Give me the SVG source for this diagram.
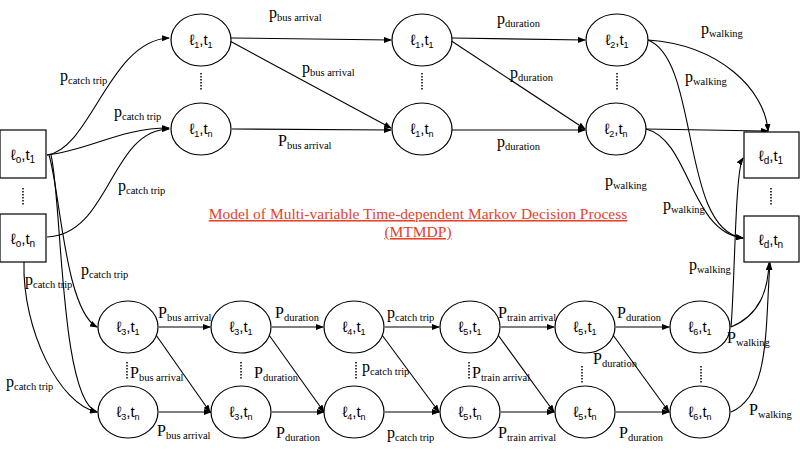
<svg xmlns="http://www.w3.org/2000/svg" width="800" height="454" viewBox="0 0 800 454">
<defs>
<marker id="a" markerWidth="8" markerHeight="6" refX="7" refY="3" orient="auto" markerUnits="userSpaceOnUse"><path d="M0,0 L8,3 L0,6 z" fill="#000"/></marker>
<style>
.n ellipse,.n rect{fill:#fff;stroke:#000;stroke-width:1.2}
.n text{font-family:"Liberation Sans",Arial,sans-serif;font-size:15px;text-anchor:middle}
.e path{fill:none;stroke:#000;stroke-width:1.1;marker-end:url(#a)}
.l{font-family:"Liberation Serif","Times New Roman",serif;font-size:16px}
.l tspan.s{font-size:10.5px}
.d{stroke:#000;stroke-width:1.5;stroke-dasharray:1.5 1.5}
.t{font-family:"Liberation Serif","Times New Roman",serif;font-size:15.5px;fill:#e8412a;text-decoration:underline;text-anchor:middle}
</style>
</defs>
<g class="e" id="connectors">
<path d="M47,155 C90,150 110,40 169,38"/>
<path d="M47,155 C90,150 120,128 169,128"/>
<path d="M47,237 C110,235 110,130 169,129"/>
<path d="M49,155 C60,190 65,310 97,327"/>
<path d="M51,155 C62,200 60,400 97,412"/>
<path d="M24,262 C22,330 60,405 97,412"/>
<path d="M231,38 L391,40"/>
<path d="M228,40 L391,128"/>
<path d="M232,129 L391,130"/>
<path d="M452,38 L585,40"/>
<path d="M450,40 L585,129"/>
<path d="M452,130 L585,130"/>
<path d="M648,40 C720,45 765,90 768,131"/>
<path d="M648,40 C700,60 680,230 743,238"/>
<path d="M646,129 L768,131"/>
<path d="M646,129 C690,140 690,232 743,238"/>
<path d="M731,327 C735,280 735,170 743,158"/>
<path d="M731,327 C760,315 768,290 769,263"/>
<path d="M731,412 C770,395 765,330 770,263"/>
<path d="M159,327 L210,327"/><path d="M156,335 L210,412"/>
<path d="M159,412 L211,412"/>
<path d="M272,327 L323,327"/><path d="M269,335 L324,412"/>
<path d="M272,412 L324,412"/>
<path d="M385,327 L439,327"/><path d="M382,335 L439,412"/>
<path d="M385,412 L439,412"/>
<path d="M501,327 L554,327"/><path d="M498,335 L554,412"/>
<path d="M501,412 L554,412"/>
<path d="M616,327 L669,327"/><path d="M613,335 L669,412"/>
<path d="M616,412 L669,412"/>
</g>
<g class="n" id="o1"><rect x="0" y="130" width="46" height="48"/><text x="23" y="160">ℓ<tspan font-size="10" dy="3">o</tspan><tspan dy="-3">,t</tspan><tspan font-size="10" dy="3">1</tspan></text></g>
<g class="n" id="on"><rect x="0" y="214" width="46" height="48"/><text x="23" y="244">ℓ<tspan font-size="10" dy="3">o</tspan><tspan dy="-3">,t</tspan><tspan font-size="10" dy="3">n</tspan></text></g>
<g class="n" id="d1"><rect x="744" y="132" width="55" height="46"/><text x="771" y="161">ℓ<tspan font-size="10" dy="3">d</tspan><tspan dy="-3">,t</tspan><tspan font-size="10" dy="3">1</tspan></text></g>
<g class="n" id="dn"><rect x="744" y="216" width="55" height="46"/><text x="771" y="245">ℓ<tspan font-size="10" dy="3">d</tspan><tspan dy="-3">,t</tspan><tspan font-size="10" dy="3">n</tspan></text></g>
<g class="n" id="n11"><ellipse cx="201" cy="40" rx="30" ry="26"/><text x="201" y="45">ℓ<tspan font-size="9" dy="3">1</tspan><tspan dy="-3">,t</tspan><tspan font-size="9" dy="3">1</tspan></text></g>
<g class="n" id="n1n"><ellipse cx="201" cy="129" rx="30" ry="26"/><text x="201" y="134">ℓ<tspan font-size="9" dy="3">1</tspan><tspan dy="-3">,t</tspan><tspan font-size="9" dy="3">n</tspan></text></g>
<g class="n" id="m11"><ellipse cx="422" cy="40" rx="30" ry="26"/><text x="422" y="45">ℓ<tspan font-size="9" dy="3">1</tspan><tspan dy="-3">,t</tspan><tspan font-size="9" dy="3">1</tspan></text></g>
<g class="n" id="m1n"><ellipse cx="422" cy="129" rx="30" ry="26"/><text x="422" y="134">ℓ<tspan font-size="9" dy="3">1</tspan><tspan dy="-3">,t</tspan><tspan font-size="9" dy="3">n</tspan></text></g>
<g class="n" id="n21"><ellipse cx="617" cy="40" rx="31" ry="26"/><text x="617" y="45">ℓ<tspan font-size="9" dy="3">2</tspan><tspan dy="-3">,t</tspan><tspan font-size="9" dy="3">1</tspan></text></g>
<g class="n" id="n2n"><ellipse cx="616" cy="129" rx="30" ry="26"/><text x="616" y="134">ℓ<tspan font-size="9" dy="3">2</tspan><tspan dy="-3">,t</tspan><tspan font-size="9" dy="3">n</tspan></text></g>
<g class="n" id="b31"><ellipse cx="128" cy="327" rx="30" ry="26"/><text x="128" y="332">ℓ<tspan font-size="9" dy="3">3</tspan><tspan dy="-3">,t</tspan><tspan font-size="9" dy="3">1</tspan></text></g>
<g class="n" id="b3n"><ellipse cx="128" cy="412" rx="30" ry="26"/><text x="128" y="417">ℓ<tspan font-size="9" dy="3">3</tspan><tspan dy="-3">,t</tspan><tspan font-size="9" dy="3">n</tspan></text></g>
<g class="n" id="c31"><ellipse cx="241" cy="327" rx="30" ry="26"/><text x="241" y="332">ℓ<tspan font-size="9" dy="3">3</tspan><tspan dy="-3">,t</tspan><tspan font-size="9" dy="3">1</tspan></text></g>
<g class="n" id="c3n"><ellipse cx="241" cy="412" rx="30" ry="26"/><text x="241" y="417">ℓ<tspan font-size="9" dy="3">3</tspan><tspan dy="-3">,t</tspan><tspan font-size="9" dy="3">n</tspan></text></g>
<g class="n" id="b41"><ellipse cx="354" cy="327" rx="30" ry="26"/><text x="354" y="332">ℓ<tspan font-size="9" dy="3">4</tspan><tspan dy="-3">,t</tspan><tspan font-size="9" dy="3">1</tspan></text></g>
<g class="n" id="b4n"><ellipse cx="354" cy="412" rx="30" ry="26"/><text x="354" y="417">ℓ<tspan font-size="9" dy="3">4</tspan><tspan dy="-3">,t</tspan><tspan font-size="9" dy="3">n</tspan></text></g>
<g class="n" id="b51"><ellipse cx="470" cy="327" rx="30" ry="26"/><text x="470" y="332">ℓ<tspan font-size="9" dy="3">5</tspan><tspan dy="-3">,t</tspan><tspan font-size="9" dy="3">1</tspan></text></g>
<g class="n" id="b5n"><ellipse cx="470" cy="412" rx="30" ry="26"/><text x="470" y="417">ℓ<tspan font-size="9" dy="3">5</tspan><tspan dy="-3">,t</tspan><tspan font-size="9" dy="3">n</tspan></text></g>
<g class="n" id="c51"><ellipse cx="585" cy="327" rx="30" ry="26"/><text x="585" y="332">ℓ<tspan font-size="9" dy="3">5</tspan><tspan dy="-3">,t</tspan><tspan font-size="9" dy="3">1</tspan></text></g>
<g class="n" id="c5n"><ellipse cx="585" cy="412" rx="30" ry="26"/><text x="585" y="417">ℓ<tspan font-size="9" dy="3">5</tspan><tspan dy="-3">,t</tspan><tspan font-size="9" dy="3">n</tspan></text></g>
<g class="n" id="b61"><ellipse cx="700" cy="327" rx="30" ry="26"/><text x="700" y="332">ℓ<tspan font-size="9" dy="3">6</tspan><tspan dy="-3">,t</tspan><tspan font-size="9" dy="3">1</tspan></text></g>
<g class="n" id="b6n"><ellipse cx="700" cy="412" rx="30" ry="26"/><text x="700" y="417">ℓ<tspan font-size="9" dy="3">6</tspan><tspan dy="-3">,t</tspan><tspan font-size="9" dy="3">n</tspan></text></g>
<g id="dots">
<line class="d" x1="23" y1="188" x2="23" y2="205"/>
<line class="d" x1="201" y1="73" x2="201" y2="91"/>
<line class="d" x1="422" y1="73" x2="422" y2="91"/>
<line class="d" x1="617" y1="73" x2="617" y2="91"/>
<line class="d" x1="771" y1="188" x2="771" y2="205"/>
<line class="d" x1="127" y1="362" x2="127" y2="380"/>
<line class="d" x1="241" y1="362" x2="241" y2="380"/>
<line class="d" x1="356" y1="362" x2="356" y2="380"/>
<line class="d" x1="469" y1="362" x2="469" y2="380"/>
<line class="d" x1="582" y1="366" x2="582" y2="384"/>
<line class="d" x1="701" y1="366" x2="701" y2="384"/>
</g>
<g id="labels">
<text class="l" x="60" y="81">p<tspan class="s" dy="3">catch trip</tspan></text>
<text class="l" x="114" y="117">p<tspan class="s" dy="3">catch trip</tspan></text>
<text class="l" x="118" y="191">p<tspan class="s" dy="3">catch trip</tspan></text>
<text class="l" x="81" y="275">p<tspan class="s" dy="3">catch trip</tspan></text>
<text class="l" x="25" y="285">p<tspan class="s" dy="3">catch trip</tspan></text>
<text class="l" x="6" y="387">p<tspan class="s" dy="3">catch trip</tspan></text>
<text class="l" x="269" y="18">p<tspan class="s" dy="3">bus arrival</tspan></text>
<text class="l" x="302" y="73">p<tspan class="s" dy="3">bus arrival</tspan></text>
<text class="l" x="278" y="146">P<tspan class="s" dy="3">bus arrival</tspan></text>
<text class="l" x="497" y="24">p<tspan class="s" dy="3">duration</tspan></text>
<text class="l" x="510" y="78">p<tspan class="s" dy="3">duration</tspan></text>
<text class="l" x="497" y="147">p<tspan class="s" dy="3">duration</tspan></text>
<text class="l" x="701" y="34">p<tspan class="s" dy="3">walking</tspan></text>
<text class="l" x="685" y="82">p<tspan class="s" dy="3">walking</tspan></text>
<text class="l" x="605" y="186">p<tspan class="s" dy="3">walking</tspan></text>
<text class="l" x="663" y="210">p<tspan class="s" dy="3">walking</tspan></text>
<text class="l" x="689" y="270">p<tspan class="s" dy="3">walking</tspan></text>
<text class="l" x="727" y="343">P<tspan class="s" dy="3">walking</tspan></text>
<text class="l" x="749" y="415">P<tspan class="s" dy="3">walking</tspan></text>
<text class="l" x="158" y="318">P<tspan class="s" dy="3">bus arrival</tspan></text>
<text class="l" x="130" y="378">P<tspan class="s" dy="3">bus arrival</tspan></text>
<text class="l" x="157" y="436">P<tspan class="s" dy="3">bus arrival</tspan></text>
<text class="l" x="275" y="318">P<tspan class="s" dy="3">duration</tspan></text>
<text class="l" x="254" y="378">P<tspan class="s" dy="3">duration</tspan></text>
<text class="l" x="276" y="438">P<tspan class="s" dy="3">duration</tspan></text>
<text class="l" x="387" y="318">p<tspan class="s" dy="3">catch trip</tspan></text>
<text class="l" x="362" y="372">p<tspan class="s" dy="3">catch trip</tspan></text>
<text class="l" x="387" y="438">p<tspan class="s" dy="3">catch trip</tspan></text>
<text class="l" x="498" y="318">P<tspan class="s" dy="3">train arrival</tspan></text>
<text class="l" x="472" y="378">P<tspan class="s" dy="3">train arrival</tspan></text>
<text class="l" x="498" y="438">P<tspan class="s" dy="3">train arrival</tspan></text>
<text class="l" x="617" y="318">P<tspan class="s" dy="3">duration</tspan></text>
<text class="l" x="593" y="364">P<tspan class="s" dy="3">duration</tspan></text>
<text class="l" x="619" y="438">P<tspan class="s" dy="3">duration</tspan></text>
<text class="t" x="418" y="219">Model of Multi-variable Time-dependent Markov Decision Process</text>
<text class="t" x="418" y="237">(MTMDP)</text>
</g>
</svg>
